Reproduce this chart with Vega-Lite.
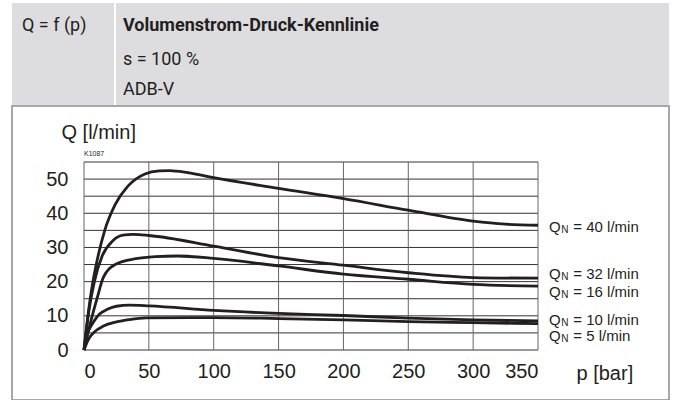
{
  "$schema": "https://vega.github.io/schema/vega-lite/v6.json",
  "padding": {"left": 11, "top": 3, "right": 8, "bottom": 0},
  "background": "white",
  "spacing": 0,
  "config": {"view": {"stroke": null}, "font": "Liberation Sans"},
  "datasets": {
    "curves": [
      {"s": "40", "p": 0, "Q": 0}, {"s": "40", "p": 3, "Q": 10}, {"s": "40", "p": 6, "Q": 18}, {"s": "40", "p": 10, "Q": 26}, {"s": "40", "p": 16, "Q": 35}, {"s": "40", "p": 24, "Q": 42.5}, {"s": "40", "p": 34, "Q": 48}, {"s": "40", "p": 47, "Q": 51.5}, {"s": "40", "p": 58, "Q": 52.4}, {"s": "40", "p": 66, "Q": 52.5}, {"s": "40", "p": 80, "Q": 51.9}, {"s": "40", "p": 100, "Q": 50.4}, {"s": "40", "p": 150, "Q": 47.3}, {"s": "40", "p": 200, "Q": 44.3}, {"s": "40", "p": 250, "Q": 40.9}, {"s": "40", "p": 300, "Q": 37.7}, {"s": "40", "p": 325, "Q": 36.8}, {"s": "40", "p": 350, "Q": 36.5},
      {"s": "32", "p": 0, "Q": 0}, {"s": "32", "p": 4, "Q": 12}, {"s": "32", "p": 8, "Q": 20}, {"s": "32", "p": 14, "Q": 27.5}, {"s": "32", "p": 22, "Q": 31.9}, {"s": "32", "p": 30, "Q": 33.6}, {"s": "32", "p": 38, "Q": 33.8}, {"s": "32", "p": 50, "Q": 33.5}, {"s": "32", "p": 100, "Q": 30.4}, {"s": "32", "p": 150, "Q": 27}, {"s": "32", "p": 200, "Q": 24.8}, {"s": "32", "p": 250, "Q": 22.6}, {"s": "32", "p": 300, "Q": 21.2}, {"s": "32", "p": 350, "Q": 21.0},
      {"s": "16", "p": 0, "Q": 0}, {"s": "16", "p": 5, "Q": 8}, {"s": "16", "p": 10, "Q": 15}, {"s": "16", "p": 15, "Q": 21.3}, {"s": "16", "p": 24, "Q": 25}, {"s": "16", "p": 40, "Q": 26.7}, {"s": "16", "p": 55, "Q": 27.3}, {"s": "16", "p": 72, "Q": 27.5}, {"s": "16", "p": 100, "Q": 26.8}, {"s": "16", "p": 150, "Q": 24.6}, {"s": "16", "p": 200, "Q": 22.2}, {"s": "16", "p": 250, "Q": 20.7}, {"s": "16", "p": 300, "Q": 19.2}, {"s": "16", "p": 350, "Q": 18.7},
      {"s": "10", "p": 0, "Q": 0}, {"s": "10", "p": 2, "Q": 4}, {"s": "10", "p": 4, "Q": 6}, {"s": "10", "p": 8, "Q": 8.6}, {"s": "10", "p": 12, "Q": 10.5}, {"s": "10", "p": 18, "Q": 11.9}, {"s": "10", "p": 25, "Q": 12.8}, {"s": "10", "p": 35, "Q": 13.1}, {"s": "10", "p": 50, "Q": 12.9}, {"s": "10", "p": 100, "Q": 11.6}, {"s": "10", "p": 150, "Q": 10.7}, {"s": "10", "p": 200, "Q": 10.1}, {"s": "10", "p": 250, "Q": 9.3}, {"s": "10", "p": 300, "Q": 8.8}, {"s": "10", "p": 350, "Q": 8.5},
      {"s": "5", "p": 0, "Q": 0}, {"s": "5", "p": 1.5, "Q": 1.5}, {"s": "5", "p": 4, "Q": 3.5}, {"s": "5", "p": 8, "Q": 5.3}, {"s": "5", "p": 15, "Q": 7}, {"s": "5", "p": 25, "Q": 8.2}, {"s": "5", "p": 35, "Q": 8.9}, {"s": "5", "p": 48, "Q": 9.4}, {"s": "5", "p": 100, "Q": 9.5}, {"s": "5", "p": 150, "Q": 9.2}, {"s": "5", "p": 200, "Q": 8.8}, {"s": "5", "p": 250, "Q": 8.3}, {"s": "5", "p": 300, "Q": 8.0}, {"s": "5", "p": 350, "Q": 7.7}
    ],
    "hgrid": [{"Q": 0}, {"Q": 5}, {"Q": 10}, {"Q": 15}, {"Q": 20}, {"Q": 25}, {"Q": 30}, {"Q": 35}, {"Q": 40}, {"Q": 45}, {"Q": 50}, {"Q": 55}],
    "vgrid": [{"p": 0}, {"p": 50}, {"p": 100}, {"p": 150}, {"p": 200}, {"p": 250}, {"p": 300}, {"p": 350}],
    "labels": [
      {"s": "40", "p": 358.5, "Q": 36.0, "t": "= 40 l/min"},
      {"s": "32", "p": 358.5, "Q": 22.15, "t": "= 32 l/min"},
      {"s": "16", "p": 358.5, "Q": 17.06, "t": "= 16 l/min"},
      {"s": "10", "p": 358.5, "Q": 8.78, "t": "= 10 l/min"},
      {"s": "5", "p": 358.5, "Q": 4.1, "t": "= 5 l/min"}
    ]
  },
  "vconcat": [
    {
      "spacing": 2,
      "hconcat": [
        {
          "width": 102, "height": 102,
          "view": {"fill": "#dddddf", "stroke": null},
          "title": {"text": "Q = f (p)", "orient": "bottom", "anchor": "start", "frame": "group", "offset": -88, "dx": 10, "font": "Roboto", "fontSize": 18, "fontWeight": "normal", "color": "#231f20"},
          "data": {"values": [{}]},
          "mark": {"type": "text"},
          "encoding": {"text": {"value": ""}}
        },
        {
          "width": 553, "height": 102,
          "view": {"fill": "#dddddf", "stroke": null},
          "title": {"text": "Volumenstrom-Druck-Kennlinie", "subtitle": ["s = 100 %", "ADB-V"], "orient": "bottom", "anchor": "start", "frame": "group", "offset": -88, "dx": 7, "font": "Roboto", "fontSize": 18, "fontWeight": "bold", "color": "#231f20", "subtitleFont": "Roboto", "subtitleFontSize": 18, "subtitleColor": "#231f20", "subtitlePadding": 15.5, "subtitleLineHeight": 30.5},
          "data": {"values": [{}]},
          "mark": {"type": "text"},
          "encoding": {"text": {"value": ""}}
        }
      ]
    },
    {
      "width": 657, "height": 294,
      "view": {"fill": "white", "stroke": "#8c8c8c", "strokeWidth": 1.5},
      "layer": [
        {
          "data": {"name": "hgrid"},
          "mark": {"type": "rule", "color": "#333333", "strokeWidth": 1},
          "encoding": {
            "y": {"field": "Q", "type": "quantitative", "scale": {"domain": [0, 55], "range": [244, 56], "nice": false}},
            "x": {"datum": 0, "type": "quantitative", "scale": {"domain": [0, 350], "range": [72, 526], "nice": false}},
            "x2": {"datum": 350}
          }
        },
        {
          "data": {"name": "vgrid"},
          "mark": {"type": "rule", "color": "#666666", "strokeWidth": 1},
          "encoding": {
            "x": {"field": "p", "type": "quantitative", "scale": {"domain": [0, 350], "range": [72, 526], "nice": false}},
            "y": {"datum": 0, "type": "quantitative", "scale": {"domain": [0, 55], "range": [244, 56], "nice": false}},
            "y2": {"datum": 55}
          }
        },
        {
          "data": {"name": "curves"},
          "mark": {"type": "line", "interpolate": "monotone", "color": "#231f20", "strokeWidth": 2.8},
          "encoding": {
            "x": {"field": "p", "type": "quantitative", "scale": {"domain": [0, 350], "range": [72, 526], "nice": false}, "axis": {"values": [0, 50, 100, 150, 200, 250, 300, 350], "offset": -50, "domain": false, "ticks": false, "grid": false, "labelPadding": 11, "labelFontSize": 20, "labelColor": "#231f20", "labelFont": "Liberation Sans", "title": "p [bar]", "titleAlign": "left", "titleBaseline": "alphabetic", "titleX": 564, "titleY": 29, "titleFontSize": 20, "titleFontWeight": "normal", "titleColor": "#231f20", "titleFont": "Liberation Sans"}},
            "y": {"field": "Q", "type": "quantitative", "scale": {"domain": [0, 55], "range": [244, 56], "nice": false}, "axis": {"values": [0, 10, 20, 30, 40, 50], "offset": -72, "domain": false, "ticks": false, "grid": false, "labelPadding": 16, "labelFontSize": 20, "labelColor": "#231f20", "labelFont": "Liberation Sans", "title": "Q [l/min]", "titleAngle": 0, "titleAlign": "left", "titleBaseline": "alphabetic", "titleX": -23, "titleY": 32, "titleFontSize": 20, "titleFontWeight": "normal", "titleColor": "#231f20", "titleFont": "Liberation Sans"}},
            "detail": {"field": "s"}
          }
        },
        {
          "data": {"values": [{"k": "K1087"}]},
          "mark": {"type": "text", "align": "left", "baseline": "alphabetic", "dy": -6, "fontSize": 7, "font": "Liberation Sans", "color": "#231f20"},
          "encoding": {
            "x": {"datum": 0, "type": "quantitative", "scale": {"domain": [0, 350], "range": [72, 526], "nice": false}},
            "y": {"datum": 55, "type": "quantitative", "scale": {"domain": [0, 55], "range": [244, 56], "nice": false}},
            "text": {"field": "k"}
          }
        },
        {
          "data": {"name": "labels"},
          "mark": {"type": "text", "align": "left", "baseline": "middle", "fontSize": 15, "font": "Liberation Sans", "color": "#231f20"},
          "encoding": {
            "x": {"field": "p", "type": "quantitative", "scale": {"domain": [0, 350], "range": [72, 526], "nice": false}},
            "y": {"field": "Q", "type": "quantitative", "scale": {"domain": [0, 55], "range": [244, 56], "nice": false}},
            "text": {"value": "Q"}
          }
        },
        {
          "data": {"name": "labels"},
          "mark": {"type": "text", "align": "left", "baseline": "middle", "fontSize": 10, "dx": 12.3, "dy": 3, "font": "Liberation Sans", "color": "#231f20"},
          "encoding": {
            "x": {"field": "p", "type": "quantitative", "scale": {"domain": [0, 350], "range": [72, 526], "nice": false}},
            "y": {"field": "Q", "type": "quantitative", "scale": {"domain": [0, 55], "range": [244, 56], "nice": false}},
            "text": {"value": "N"}
          }
        },
        {
          "data": {"name": "labels"},
          "mark": {"type": "text", "align": "left", "baseline": "middle", "fontSize": 15, "dx": 24.3, "font": "Liberation Sans", "color": "#231f20"},
          "encoding": {
            "x": {"field": "p", "type": "quantitative", "scale": {"domain": [0, 350], "range": [72, 526], "nice": false}},
            "y": {"field": "Q", "type": "quantitative", "scale": {"domain": [0, 55], "range": [244, 56], "nice": false}},
            "text": {"field": "t"}
          }
        }
      ]
    }
  ]
}
